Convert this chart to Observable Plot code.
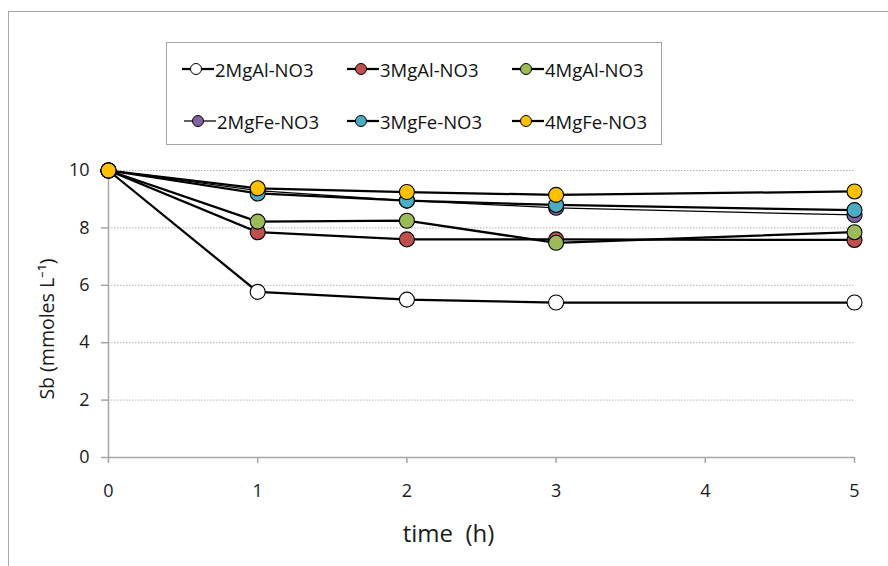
<!DOCTYPE html>
<html>
<head>
<meta charset="utf-8">
<script src="https://cdn.jsdelivr.net/npm/d3@7"></script>
<script src="https://cdn.jsdelivr.net/npm/@observablehq/plot@0.6"></script>
<style>
  html, body { margin: 0; padding: 0; background: #fff; overflow: hidden; }
  #wrap { position: relative; width: 888px; height: 566px; overflow: hidden; font-family: "Open Sans", sans-serif; }
  #border { position: absolute; left: 8px; top: 11px; width: 900px; height: 600px; border: 1.5px solid #a6a6a6; }
  #chart { position: absolute; left: 0; top: 0; }
  #legend { position: absolute; left: 166px; top: 42px; width: 494px; height: 101px; border: 1.5px solid #a6a6a6; background: #fff; }
  .item { position: absolute; display: flex; align-items: center; font-size: 18.5px; color: #111; white-space: nowrap; height: 24px; }
  .item svg { margin-right: 1px; }
</style>
</head>
<body>
<div id="wrap">
  <div id="border"></div>
  <div id="chart"></div>
  <div id="legend"></div>
</div>
<script>
const times = [0, 1, 2, 3, 5];
const seriesNames = ["2MgAl-NO3", "3MgAl-NO3", "4MgAl-NO3", "2MgFe-NO3", "3MgFe-NO3", "4MgFe-NO3"];
const seriesColors = ["#ffffff", "#c0504d", "#9bbb59", "#8064a2", "#4bacc6", "#ffc000"];
const lineWidths = [2.25, 2.25, 2.25, 1.25, 2.25, 2.25];
const v2MgAl = [10, 5.77, 5.5, 5.4, 5.4];
const v3MgAl = [10, 7.85, 7.6, 7.6, 7.58];
const v4MgAl = [10, 8.22, 8.25, 7.48, 7.85];
const v2MgFe = [10, 9.3, 8.95, 8.7, 8.45];
const v3MgFe = [10, 9.2, 8.95, 8.8, 8.62];
const v4MgFe = [10, 9.38, 9.25, 9.15, 9.27];
const seriesValues = [v2MgAl, v3MgAl, v4MgAl, v2MgFe, v3MgFe, v4MgFe];
const xTicks = [0, 1, 2, 3, 4, 5];
const yTicks = [0, 2, 4, 6, 8, 10];
const xLabel = "time\u00a0\u00a0(h)";
const yLabel = "Sb (mmoles L\u207b\u00b9)";

const seriesMarks = [];
seriesNames.forEach((name, i) => {
  const data = times.map((t, j) => ({time: t, value: seriesValues[i][j], series: name}));
  seriesMarks.push(Plot.line(data, {x: "time", y: "value", stroke: "#000", strokeWidth: lineWidths[i]}));
  seriesMarks.push(Plot.dot(data, {x: "time", y: "value", r: 7.5, fill: seriesColors[i], stroke: "#000", strokeWidth: 1.1, fillOpacity: 1}));
});

const chart = Plot.plot({
  width: 888,
  height: 566,
  marginLeft: 108,
  marginRight: 34,
  marginTop: 170,
  marginBottom: 109,
  x: {domain: [0, 5]},
  y: {domain: [0, 10]},
  style: {fontFamily: "'Open Sans', sans-serif", fontSize: "18px", color: "#1a1a1a", background: "transparent", overflow: "visible"},
  marks: [
    Plot.gridY(yTicks.filter(d => d > 0), {stroke: "#b3b3b3", strokeOpacity: 1, strokeDasharray: "1.5,1.5"}),
    Plot.ruleY([0], {stroke: "#a6a6a6", strokeWidth: 1.5}),
    Plot.ruleX([0], {stroke: "#a6a6a6", strokeWidth: 1.5}),
    Plot.axisX({ticks: xTicks, tickFormat: d3.format("d"), tickSize: 6, tickPadding: 21, stroke: "#a6a6a6", strokeWidth: 1.5, label: null}),
    Plot.axisY({ticks: yTicks, tickFormat: d3.format("d"), tickSize: 7, tickPadding: 12, stroke: "#a6a6a6", strokeWidth: 1.5, label: null}),
    ...seriesMarks,
    Plot.text([yLabel], {frameAnchor: "left", textAnchor: "middle", rotate: -90, dx: -61, dy: 15, fontSize: 19.5, fill: "#1a1a1a"}),
    Plot.text([xLabel], {frameAnchor: "bottom", dx: -33, dy: 84, fontSize: 24, fill: "#1a1a1a"})
  ]
});
document.getElementById("chart").appendChild(chart);

const legend = document.getElementById("legend");
seriesNames.forEach((name, i) => {
  const col = i % 3, row = Math.floor(i / 3);
  const item = document.createElement("div");
  item.className = "item";
  item.style.left = (15 + col * 165 + (row === 1 && col === 0 ? 2 : 0)) + "px";
  item.style.top = (14 + row * 52) + "px";
  const ns = "http://www.w3.org/2000/svg";
  const svg = document.createElementNS(ns, "svg");
  svg.setAttribute("width", 32);
  svg.setAttribute("height", 14);
  const ln = document.createElementNS(ns, "line");
  ln.setAttribute("x1", 0); ln.setAttribute("x2", 32);
  ln.setAttribute("y1", 7); ln.setAttribute("y2", 7);
  ln.setAttribute("stroke", "#000");
  ln.setAttribute("stroke-width", lineWidths[i]);
  svg.appendChild(ln);
  const c = document.createElementNS(ns, "circle");
  c.setAttribute("cx", 14); c.setAttribute("cy", 7); c.setAttribute("r", 5.5);
  c.setAttribute("fill", seriesColors[i]);
  c.setAttribute("stroke", "#000");
  c.setAttribute("stroke-width", 1);
  svg.appendChild(c);
  item.appendChild(svg);
  const span = document.createElement("span");
  span.textContent = name;
  item.appendChild(span);
  legend.appendChild(item);
});
</script>
</body>
</html>
